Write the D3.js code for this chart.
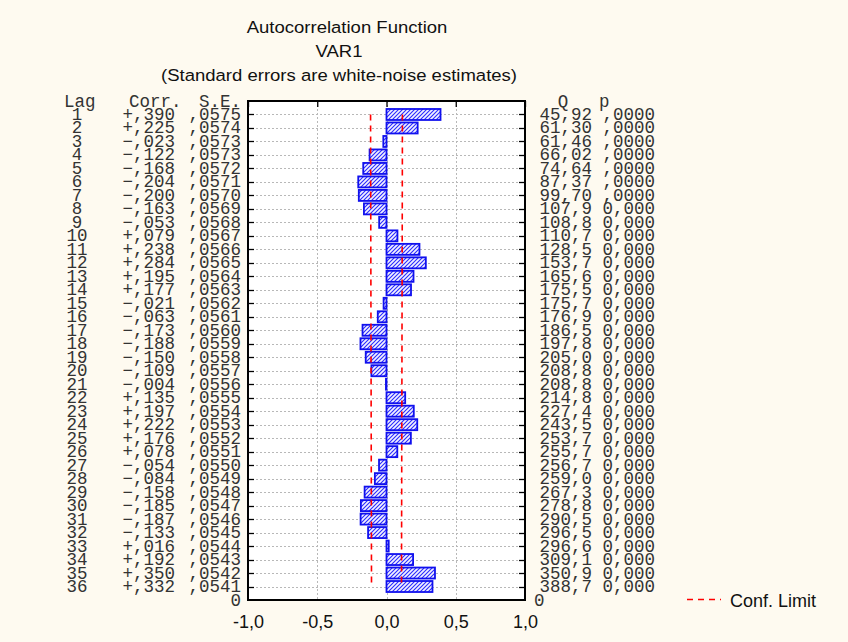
<!DOCTYPE html>
<html>
<head>
<meta charset="utf-8">
<script src="https://cdn.jsdelivr.net/npm/d3@7"></script>
<style>
  html, body { margin: 0; padding: 0; background: #fefaf0; }
  svg { display: block; }
</style>
</head>
<body>
<svg id="chart" width="848" height="642"></svg>
<script>
// ---- data ----
const lags = d3.range(1, 37);
const corr = [0.390, 0.225, -0.023, -0.122, -0.168, -0.204, -0.200, -0.163, -0.053, 0.079,
              0.238, 0.284, 0.195, 0.177, -0.021, -0.063, -0.173, -0.188, -0.150, -0.109,
              -0.004, 0.135, 0.197, 0.222, 0.176, 0.078, -0.054, -0.084, -0.158, -0.185,
              -0.187, -0.133, 0.016, 0.192, 0.350, 0.332];
const se = [0.0575, 0.0574, 0.0573, 0.0573, 0.0572, 0.0571, 0.0570, 0.0569, 0.0568, 0.0567,
            0.0566, 0.0565, 0.0564, 0.0563, 0.0562, 0.0561, 0.0560, 0.0559, 0.0558, 0.0557,
            0.0556, 0.0555, 0.0554, 0.0553, 0.0552, 0.0551, 0.0550, 0.0549, 0.0548, 0.0547,
            0.0546, 0.0545, 0.0544, 0.0543, 0.0542, 0.0541];
const qLabels = ["45,92", "61,30", "61,46", "66,02", "74,64", "87,37", "99,70", "107,9", "108,8", "110,7",
                 "128,5", "153,7", "165,6", "175,5", "175,7", "176,9", "186,5", "197,8", "205,0", "208,8",
                 "208,8", "214,8", "227,4", "243,5", "253,7", "255,7", "256,7", "259,0", "267,3", "278,8",
                 "290,5", "296,5", "296,6", "309,1", "350,9", "388,7"];
const pLabels = [",0000", ",0000", ",0000", ",0000", ",0000", ",0000", ",0000", "0,000", "0,000", "0,000",
                 "0,000", "0,000", "0,000", "0,000", "0,000", "0,000", "0,000", "0,000", "0,000", "0,000",
                 "0,000", "0,000", "0,000", "0,000", "0,000", "0,000", "0,000", "0,000", "0,000", "0,000",
                 "0,000", "0,000", "0,000", "0,000", "0,000", "0,000"];
const xTicks = [-1, -0.5, 0, 0.5, 1];
const xTickLabels = ["-1,0", "-0,5", "0,0", "0,5", "1,0"];
const titleLines = ["Autocorrelation Function", "VAR1", "(Standard errors are white-noise estimates)"];
const legendLabel = "Conf. Limit";

// ---- layout ----
const svg = d3.select("#chart");
const plot = { left: 248, right: 525, top: 101, bottom: 600 };
const x = d3.scaleLinear().domain([-1, 1]).range([plot.left, plot.right]);
const y = d3.scaleLinear().domain([0, 37]).range([plot.top, plot.bottom]);
const base = l => y(l) + 5.5;  // text baseline for a row
const corrFmt = v => (v < 0 ? "\u2212" : "+") + d3.format(".3f")(Math.abs(v)).replace(/^0/, "").replace(".", ",");
const seFmt = v => d3.format(".4f")(v).replace(/^0/, "").replace(".", ",");

const mono = "'Liberation Mono', 'Courier New', monospace";
const sans = "'Liberation Sans', Arial, sans-serif";
const textCol = "#333333";
const fsMono = 17.5;

// background
svg.append("rect").attr("width", 848).attr("height", 642).attr("fill", "#fefaf0");

// defs: hatch pattern
const defs = svg.append("defs");
const pat = defs.append("pattern").attr("id", "hatch").attr("patternUnits", "userSpaceOnUse")
  .attr("width", 4).attr("height", 4);
pat.append("rect").attr("width", 4).attr("height", 4).attr("fill", "#f2f2ff");
pat.append("path").attr("d", "M-1,1 l2,-2 M0,4 l4,-4 M3,5 l2,-2")
  .attr("stroke", "#2a2aff").attr("stroke-width", 1.1);

// title
const titlePos = [[347, 33], [339, 57], [339, 81]];
titleLines.forEach((t, i) => {
  svg.append("text")
    .attr("transform", `translate(${titlePos[i][0]},${titlePos[i][1]}) scale(1.09,1)`)
    .attr("text-anchor", "middle")
    .attr("font-family", sans).attr("font-size", 17).attr("fill", "#111")
    .text(t);
});

// plot area
svg.append("rect").attr("x", plot.left).attr("y", plot.top)
  .attr("width", plot.right - plot.left).attr("height", plot.bottom - plot.top)
  .attr("fill", "#ffffff");

// gridlines
const grid = svg.append("g").attr("stroke", "#b8b8b8").attr("stroke-width", 1).attr("stroke-dasharray", "2,2");
grid.selectAll("line.h").data(lags).join("line").attr("class", "h")
  .attr("x1", plot.left).attr("x2", plot.right)
  .attr("y1", d => Math.round(y(d)) + 0.5).attr("y2", d => Math.round(y(d)) + 0.5);
grid.selectAll("line.v").data([-0.5, 0, 0.5]).join("line").attr("class", "v")
  .attr("x1", d => Math.round(x(d)) + 0.5).attr("x2", d => Math.round(x(d)) + 0.5)
  .attr("y1", plot.top).attr("y2", plot.bottom);

// bars
const barH = 11;
svg.append("g").selectAll("rect").data(lags).join("rect")
  .attr("x", (d, i) => Math.min(x(0), x(corr[i])))
  .attr("width", (d, i) => Math.abs(x(corr[i]) - x(0)))
  .attr("y", d => y(d) - barH / 2)
  .attr("height", barH)
  .attr("fill", "url(#hatch)")
  .attr("stroke", "#1010ee").attr("stroke-width", 1.8);

// confidence limits
const confLine = d3.line().x(d => d[0]).y(d => d[1]);
[1, -1].forEach(s => {
  svg.append("path")
    .attr("d", confLine(lags.map((l, i) => [x(s * 2 * se[i]), y(l)])))
    .attr("fill", "none").attr("stroke", "#ff0000").attr("stroke-width", 1.6)
    .attr("stroke-dasharray", "6,5");
});

// frame
svg.append("rect").attr("x", plot.left).attr("y", plot.top)
  .attr("width", plot.right - plot.left).attr("height", plot.bottom - plot.top)
  .attr("fill", "none").attr("stroke", "#000").attr("stroke-width", 2);

// row ticks (inside, left & right)
const tk = svg.append("g").attr("stroke", "#000").attr("stroke-width", 1.3);
tk.selectAll("line.l").data(lags).join("line").attr("class", "l")
  .attr("x1", plot.left).attr("x2", plot.left + 6)
  .attr("y1", d => Math.round(y(d)) + 0.5).attr("y2", d => Math.round(y(d)) + 0.5);
tk.selectAll("line.r").data(lags).join("line").attr("class", "r")
  .attr("x1", plot.right - 6).attr("x2", plot.right)
  .attr("y1", d => Math.round(y(d)) + 0.5).attr("y2", d => Math.round(y(d)) + 0.5);

// x axis top ticks (inside)
const xTop = d3.axisTop(x).tickValues(xTicks).tickSizeInner(-6).tickSizeOuter(0).tickFormat("");
svg.append("g").attr("transform", `translate(0,${plot.top})`).call(xTop)
  .call(g => g.select(".domain").remove())
  .call(g => g.selectAll("line").attr("stroke", "#000").attr("stroke-width", 1.3));

// x axis bottom labels
const xBot = d3.axisBottom(x).tickValues(xTicks).tickSize(0).tickFormat((d, i) => xTickLabels[i]);
svg.append("g").attr("transform", `translate(0,${plot.bottom})`).call(xBot)
  .call(g => g.select(".domain").remove())
  .call(g => g.selectAll("text").attr("font-family", sans).attr("font-size", 18)
    .attr("fill", "#111").attr("dy", null).attr("y", 28));

// left table
const tbl = svg.append("g").attr("font-family", mono).attr("font-size", fsMono).attr("fill", textCol);
tbl.append("text").attr("x", 64).attr("y", base(0)).text("Lag");
tbl.append("text").attr("x", 129).attr("y", base(0)).text("Corr.");
tbl.append("text").attr("x", 241).attr("y", base(0)).attr("text-anchor", "end").text("S.E.");
tbl.selectAll("text.lag").data(lags).join("text").attr("class", "lag")
  .attr("x", 77).attr("y", d => base(d)).attr("text-anchor", "middle").text(d => d);
tbl.selectAll("text.corr").data(lags).join("text").attr("class", "corr")
  .attr("x", 175).attr("y", d => base(d)).attr("text-anchor", "end").text((d, i) => corrFmt(corr[i]));
tbl.selectAll("text.se").data(lags).join("text").attr("class", "se")
  .attr("x", 241).attr("y", d => base(d)).attr("text-anchor", "end").text((d, i) => seFmt(se[i]));
tbl.append("text").attr("x", 241).attr("y", base(37)).attr("text-anchor", "end").text("0");

// right table
const rt = svg.append("g").attr("font-family", mono).attr("font-size", fsMono).attr("fill", textCol);
rt.append("text").attr("x", 563).attr("y", base(0)).attr("text-anchor", "middle").text("Q");
rt.append("text").attr("x", 599).attr("y", base(0)).text("p");
rt.selectAll("text.q").data(lags).join("text").attr("class", "q")
  .attr("x", 592).attr("y", d => base(d)).attr("text-anchor", "end").text((d, i) => qLabels[i]);
rt.selectAll("text.p").data(lags).join("text").attr("class", "p")
  .attr("x", 655).attr("y", d => base(d)).attr("text-anchor", "end").text((d, i) => pLabels[i]);
rt.append("text").attr("x", 534).attr("y", base(37)).text("0");

// legend
svg.append("line").attr("x1", 687).attr("x2", 721).attr("y1", 599.5).attr("y2", 599.5)
  .attr("stroke", "#ff0000").attr("stroke-width", 1.6).attr("stroke-dasharray", "6,5");
svg.append("text").attr("x", 730).attr("y", 606.5)
  .attr("font-family", sans).attr("font-size", 18).attr("fill", "#111").text(legendLabel);
</script>
</body>
</html>
